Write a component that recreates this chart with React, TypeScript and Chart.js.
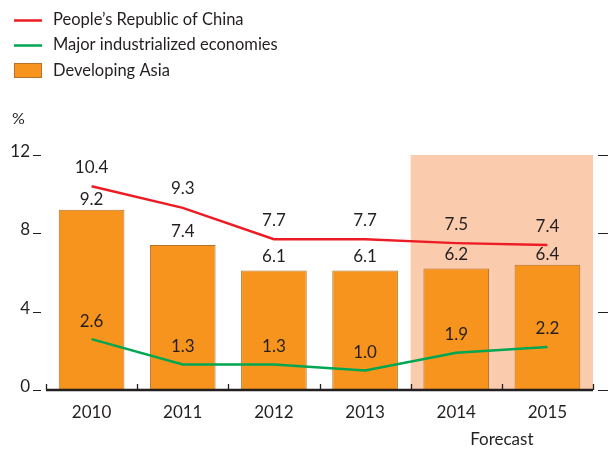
import { useEffect, useRef } from "react";
import { Chart, registerables } from "chart.js";

Chart.register(...registerables);

const years = ["2010", "2011", "2012", "2013", "2014", "2015"];
const chinaGrowth = [10.4, 9.3, 7.7, 7.7, 7.5, 7.4];
const majorEconomiesGrowth = [2.6, 1.3, 1.3, 1.0, 1.9, 2.2];
const developingAsiaGrowth = [9.2, 7.4, 6.1, 6.1, 6.2, 6.4];
const yTicks = [0, 4, 8, 12];
const forecastYears = ["2014", "2015"];
const seriesNames = [
  "People\u2019s Republic of China",
  "Major industrialized economies",
  "Developing Asia",
];
const unitLabel = "%";
const forecastLabel = "Forecast";

const FONT = "Lato, 'Noto Sans', sans-serif";
const TEXT = "#231f20";
const RED = "#ED1C24";
const GREEN = "#00A651";
const ORANGE = "#F7941D";
const ORANGE_BORDER = "#B5712A";
const SHADE = "#FBCBAE";

const decor = {
  id: "decor",
  beforeDatasetsDraw(chart: any) {
    const { ctx, chartArea, scales } = chart;
    const x = scales.x;
    const y = scales.y;
    const step = (chartArea.right - chartArea.left) / years.length;
    const fi = years.indexOf(forecastYears[0]);
    const fx = x.getPixelForValue(fi) - step / 2;
    const top = y.getPixelForValue(yTicks[yTicks.length - 1]);
    const bot = y.getPixelForValue(0);
    ctx.save();
    ctx.fillStyle = SHADE;
    ctx.fillRect(fx, top, chartArea.right - fx, bot - top);
    ctx.restore();
  },
  afterDatasetsDraw(chart: any) {
    const { ctx, chartArea, scales } = chart;
    const x = scales.x;
    const y = scales.y;
    const step = (chartArea.right - chartArea.left) / years.length;
    const base = y.getPixelForValue(0);
    ctx.save();

    // baseline + inner category ticks
    ctx.strokeStyle = TEXT;
    ctx.lineWidth = 2.5;
    ctx.beginPath();
    ctx.moveTo(chartArea.left, base);
    ctx.lineTo(chartArea.right, base);
    ctx.stroke();
    ctx.lineWidth = 1.3;
    for (let i = 0; i <= years.length; i++) {
      const px = Math.round(chartArea.left + i * step) + 0.5;
      ctx.beginPath();
      ctx.moveTo(px, base);
      ctx.lineTo(px, base - 6);
      ctx.stroke();
    }

    // y ticks, both sides
    ctx.lineWidth = 1.2;
    ctx.font = `17px ${FONT}`;
    ctx.fillStyle = TEXT;
    ctx.textAlign = "right";
    ctx.textBaseline = "alphabetic";
    yTicks.forEach((v) => {
      const py = Math.round(y.getPixelForValue(v)) + 0.5;
      ctx.beginPath();
      ctx.moveTo(33, py);
      ctx.lineTo(41, py);
      ctx.moveTo(chartArea.right + 5, py);
      ctx.lineTo(chartArea.right + 15, py);
      ctx.stroke();
      ctx.fillText(String(v), 30, py + 1);
    });

    // unit label
    ctx.textAlign = "left";
    ctx.textBaseline = "middle";
    ctx.font = `16px ${FONT}`;
    ctx.fillText(unitLabel, 12, 119);

    // forecast label, centred under the forecast band
    ctx.textAlign = "center";
    ctx.font = `17px ${FONT}`;
    const firstF = years.indexOf(forecastYears[0]);
    const bandLeft = x.getPixelForValue(firstF) - step / 2;
    ctx.fillText(forecastLabel, (bandLeft + chartArea.right) / 2, 440);

    // data labels
    ctx.textBaseline = "middle";
    years.forEach((_, i) => {
      const px = x.getPixelForValue(i);
      const chinaY = y.getPixelForValue(chinaGrowth[i]);
      const barTop = y.getPixelForValue(developingAsiaGrowth[i]);
      let barLabelY = barTop - 14;
      if (barLabelY - chinaY < 10) barLabelY = barTop - 10.5;
      ctx.fillText(developingAsiaGrowth[i].toFixed(1), px, barLabelY);
      ctx.fillText(chinaGrowth[i].toFixed(1), px, chinaY - 19);
      ctx.fillText(majorEconomiesGrowth[i].toFixed(1), px, y.getPixelForValue(majorEconomiesGrowth[i]) - 18);
    });

    // legend
    const rows = [20.5, 45.5, 71];
    ctx.lineWidth = 2.5;
    ctx.strokeStyle = RED;
    ctx.beginPath();
    ctx.moveTo(14, rows[0]);
    ctx.lineTo(42, rows[0]);
    ctx.stroke();
    ctx.strokeStyle = GREEN;
    ctx.beginPath();
    ctx.moveTo(14, rows[1]);
    ctx.lineTo(42, rows[1]);
    ctx.stroke();
    ctx.fillStyle = ORANGE;
    ctx.fillRect(14, 63, 28, 15);
    ctx.lineWidth = 1;
    ctx.strokeStyle = ORANGE_BORDER;
    ctx.strokeRect(14.5, 63.5, 27, 14);
    ctx.fillStyle = TEXT;
    ctx.textAlign = "left";
    ctx.textBaseline = "middle";
    ctx.font = `16.5px ${FONT}`;
    seriesNames.forEach((n, i) => ctx.fillText(n, 53, rows[i] - 0.5));

    ctx.restore();
  },
};

export default function App() {
  const ref = useRef<HTMLCanvasElement>(null);
  useEffect(() => {
    if (!ref.current) return;
    const chart = new Chart(ref.current, {
      type: "bar",
      data: {
        labels: years,
        datasets: [
          {
            type: "line",
            label: seriesNames[0],
            data: chinaGrowth,
            borderColor: RED,
            borderWidth: 2.5,
            pointRadius: 0,
            tension: 0,
            order: 1,
          },
          {
            type: "line",
            label: seriesNames[1],
            data: majorEconomiesGrowth,
            borderColor: GREEN,
            borderWidth: 2.5,
            pointRadius: 0,
            tension: 0,
            order: 1,
          },
          {
            type: "bar",
            label: seriesNames[2],
            data: developingAsiaGrowth,
            backgroundColor: ORANGE,
            borderColor: ORANGE_BORDER,
            borderWidth: 1,
            barPercentage: 0.72,
            categoryPercentage: 1,
            order: 2,
          },
        ] as any,
      },
      options: {
        animation: false,
        responsive: false,
        maintainAspectRatio: false,
        layout: { padding: { top: 155, right: 17, left: 0, bottom: 0 } },
        plugins: { legend: { display: false }, tooltip: { enabled: false } },
        scales: {
          x: {
            grid: { display: false, drawTicks: false },
            border: { display: false },
            ticks: { color: TEXT, font: { family: FONT, size: 17 }, padding: 12 },
            afterFit: (s: any) => {
              s.height = 59;
            },
          },
          y: {
            min: 0,
            max: 12,
            grid: { display: false, drawTicks: false },
            border: { display: false },
            ticks: { display: false, stepSize: 4 },
            afterFit: (s: any) => {
              s.width = 46;
            },
          },
        },
      },
      plugins: [decor],
    });
    return () => chart.destroy();
  }, []);
  return (
    <div style={{ position: "fixed", left: 0, top: 0, width: 610, height: 449, background: "#fff" }}>
      <canvas ref={ref} width={610} height={449} style={{ display: "block" }} />
    </div>
  );
}
